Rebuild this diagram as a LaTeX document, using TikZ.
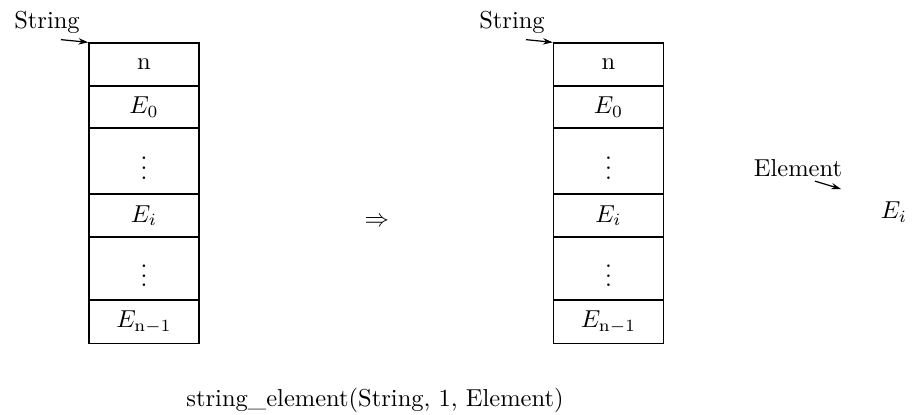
\documentclass[tikz,border=0pt]{standalone}
\usetikzlibrary{arrows.meta}
\begin{document}
\begin{tikzpicture}[x=0.408pt,y=-0.408pt,
  cell/.style={draw,line width=0.6pt,inner sep=0pt,minimum width=44.9pt},
  rowA/.style={cell,minimum height=17.5pt},
  rowB/.style={cell,minimum height=26.9pt},
  rowC/.style={cell,minimum height=25.7pt},
  lbl/.style={inner sep=0pt,font=\normalsize},
  arr/.style={-{Stealth[length=4pt,width=2.6pt]},line width=0.5pt}]
\useasboundingbox (0,0) rectangle (916,415);
% left string
\node[rowA] (nL)  at (144,64.5) {n};
\node[rowA] (e0L) at (144,107)  {$E_0$};
\node[rowB] (d1L) at (144,161)  {$\vdots$};
\node[rowA] (eiL) at (144,215.5){$E_i$};
\node[rowC] (d2L) at (144,268.5){$\vdots$};
\node[rowA] (enL) at (144,322)  {$E_{\mathrm{n}-1}$};
\node[lbl] (strL) at (47,22) {String};
\draw[arr] (strL.south) ++(14,6) -- (nL.north west);
% arrow
\node[lbl] (impl) at (377,222) {$\Rightarrow$};
% right string
\node[rowA] (nR)  at (608.5,64.5) {n};
\node[rowA] (e0R) at (608.5,107)  {$E_0$};
\node[rowB] (d1R) at (608.5,161)  {$\vdots$};
\node[rowA] (eiR) at (608.5,215.5){$E_i$};
\node[rowC] (d2R) at (608.5,268.5){$\vdots$};
\node[rowA] (enR) at (608.5,322)  {$E_{\mathrm{n}-1}$};
\node[lbl] (strR) at (512,22) {String};
\draw[arr] (strR.south) ++(14,6) -- (nR.north west);
% element
\node[lbl] (elem) at (798,168) {Element};
\coordinate (elTip) at (841,189);
\draw[arr] (elem.south) ++(17,4) -- (elTip);
\node[lbl] (ei) at (894,212) {$E_i$};
% caption
\node[lbl] (cap) at (375,400) {string\_element(String, 1, Element)};
\end{tikzpicture}
\end{document}
